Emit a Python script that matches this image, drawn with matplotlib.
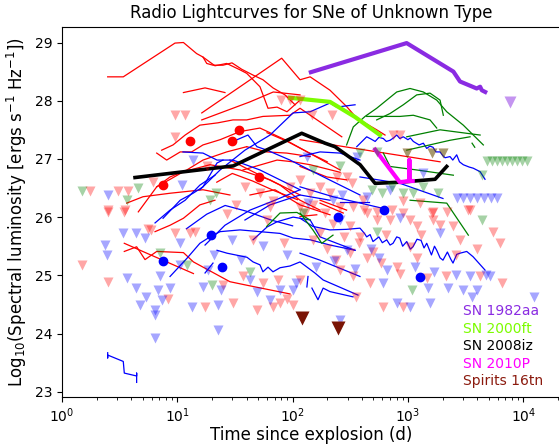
import numpy as np
import matplotlib.pyplot as plt

# --- highlighted objects (days, log10 L) ---
sn1982aa_t = [144, 975, 2480, 2830, 3950, 4230, 4370, 4680]
sn1982aa_L = [28.49, 28.99, 28.50, 28.33, 28.21, 28.24, 28.18, 28.15]
sn1982aa_lim_t = [7700]
sn1982aa_lim_L = [27.98]

sn2000ft_t = [95, 211, 348, 573]
sn2000ft_L = [28.05, 27.98, 27.72, 27.41]

sn2008iz_t = [4.3, 30.6, 120, 191, 233, 385, 519, 854, 1720, 2170]
sn2008iz_L = [26.68, 26.88, 27.44, 27.27, 27.21, 26.90, 26.58, 26.60, 26.65, 26.87]

sn2010p_t = [520, 850, 1030, 1030, 1030, 1100]
sn2010p_L = [27.16, 26.60, 26.62, 26.98, 26.62, 26.62]

spirits_t = [120, 249]
spirits_L = [24.26, 24.09]

# --- other light curves: (days, log10 L) ---
red_curves = [
    ([2.49, 3.40, 9.55, 11.3, 14.7, 16.7, 18.0, 20.4, 24.9, 29.8, 36.2, 45.4, 55.3, 67.6, 85.9, 105],
     [28.41, 28.41, 28.99, 29.0, 28.81, 28.75, 28.64, 28.61, 28.61, 28.65, 28.54, 28.44, 28.36, 28.22, 28.10, 27.93]),
    ([16.7, 21.2, 26.8, 35.0, 40.0, 52.1, 61.2, 73.3, 89.4, 116],
     [28.75, 28.60, 28.64, 28.53, 28.47, 28.24, 27.87, 27.89, 27.81, 28.01]),
    ([11.3, 17.4, 25.9], [28.14, 28.22, 28.14]),
    ([16.3, 80.4, 116, 142, 211, 294, 360, 536, 633],
     [27.79, 28.73, 28.36, 28.41, 28.18, 27.90, 27.70, 27.50, 27.41]),
    ([16.3, 42.7, 68, 116], [27.67, 27.98, 28.15, 28.10]),
    ([7.32, 9.18, 11.7, 15.7, 22.5, 30.4, 40.0, 55.3, 94.9, 116, 267],
     [27.15, 27.24, 27.41, 27.58, 27.62, 27.67, 27.67, 27.73, 27.75, 27.87, 27.38]),
    ([6.63, 8.09, 10.6, 13.3, 16.7, 23.5, 35.0, 52.1, 85.9, 258],
     [27.10, 26.98, 27.12, 27.12, 27.24, 27.33, 27.47, 27.53, 27.33, 26.81]),
    ([4.59, 6.63, 7.08, 11.3, 19.2, 35.0, 63.7, 116],
     [26.09, 26.52, 26.55, 26.78, 26.90, 26.81, 26.64, 26.38]),
    ([3.64, 5.04, 8.65, 16.7, 28.6], [26.24, 26.35, 26.41, 26.47, 26.38]),
    ([3.47, 4.44, 5.25, 6.63, 11.3, 13.8, 28.6, 40.0, 94.9],
     [25.41, 25.49, 25.27, 25.41, 25.39, 25.23, 24.89, 24.83, 24.68]),
    ([3.47, 5.43, 13.8], [25.55, 25.38, 25.03]),
    ([6.41, 8.65, 11.3, 15.7, 21.2], [25.75, 25.86, 25.98, 26.21, 26.29]),
    ([116, 1900], [27.33, 26.95]),
    ([37.1, 73.3, 101, 142, 258], [26.81, 26.98, 26.95, 26.90, 26.77]),
    ([6.63, 8.65, 12.1, 16.7, 26.8, 40.0], [26.52, 26.69, 26.81, 26.98, 27.12, 27.21]),
    ([40.0, 59.6, 88.9, 142], [27.21, 27.12, 27.10, 27.04]),
    ([116, 198, 294], [26.87, 26.69, 26.64]),
    ([173, 294], [26.29, 26.12]),
    ([173, 275], [26.24, 26.07]),
    ([116, 162], [26.01, 26.04]),
    ([28.6, 52.1, 77.8, 116, 173], [26.98, 26.72, 26.55, 26.29, 26.12]),
    ([42.7, 70.3, 116, 211], [26.38, 26.47, 26.21, 26.04]),
    ([22.0, 30.0, 45.0, 70.0, 110], [26.60, 26.75, 26.62, 26.45, 26.30]),
    ([60.0, 90.0, 140, 200], [27.45, 27.30, 27.10, 26.95]),
]

blue_curves = [
    ([11.2, 16.7, 22.1, 30.4, 52.1, 116], [27.12, 27.10, 26.98, 26.98, 26.81, 26.47]),
    ([15.7, 23.5, 38.6, 63.7, 101, 142, 211, 241, 348],
     [26.47, 26.81, 27.15, 27.41, 27.79, 27.81, 27.96, 27.89, 27.93]),
    ([33.0, 41.0, 49.1, 60.0, 94.9, 173, 384], [27.33, 27.41, 27.21, 27.15, 26.98, 26.72, 26.38]),
    ([8.65, 12.1, 15.7, 19.2, 23.5, 35.0, 52.1, 77.8, 101, 142, 211, 348],
     [24.98, 25.29, 25.55, 25.66, 25.75, 25.78, 25.75, 25.72, 25.64, 25.61, 25.52, 25.43]),
    ([6.41, 8.65, 11.7, 15.7, 21.2], [25.90, 26.12, 26.29, 26.55, 26.72]),
    ([22.1, 27.0, 40.2, 45.4, 52.1, 55.3, 61.2, 67.6, 77.8, 94.9, 116, 156, 184, 369],
     [25.43, 25.38, 25.31, 25.23, 25.18, 25.06, 25.14, 25.06, 25.13, 25.16, 25.23, 25.04, 24.92, 24.66]),
    ([45.4, 60.0, 73.3, 101, 142, 173, 348], [25.61, 25.83, 25.92, 26.00, 25.95, 25.66, 25.43]),
    ([116, 150, 211, 294, 384, 420, 439, 470, 498, 560, 600, 655, 700, 743, 800, 850, 900, 977,
      1050, 1107, 1200, 1300, 1380, 1456, 1600, 1700, 1778, 1900, 2014, 2200, 2350, 2461, 2650,
      2831, 3236, 3671, 4664],
     [25.98, 25.84, 25.78, 25.79, 25.81, 25.72, 25.66, 25.70, 25.58, 25.66, 25.56, 25.61, 25.52,
      25.55, 25.66, 25.64, 25.50, 25.58, 25.45, 25.49, 25.62, 25.60, 25.47, 25.55, 25.35, 25.50,
      25.43, 25.30, 25.26, 25.40, 25.28, 25.21, 25.36, 25.38, 25.41, 25.32, 25.09]),
    ([360, 400, 439, 480, 520, 560, 612, 650, 700, 750, 800, 850, 912, 1000, 1050, 1114, 1180,
      1250, 1361, 1456, 1550, 1650, 1750, 1900, 2000, 2100, 2317, 2450, 2649, 2800, 3022, 3400,
      3690, 4230, 4664],
     [27.21, 27.30, 27.38, 27.34, 27.30, 27.37, 27.35, 27.30, 27.32, 27.36, 27.41, 27.35, 27.38,
      27.33, 27.36, 27.30, 27.27, 27.24, 27.27, 27.18, 27.22, 27.20, 27.12, 27.12, 27.06, 27.02,
      27.04, 26.98, 27.07, 26.95, 26.90, 26.86, 26.84, 26.78, 26.65]),
    ([116, 173, 258, 384], [27.04, 27.12, 27.10, 26.98]),
    ([116, 224, 608], [26.52, 26.35, 26.15]),
    ([384, 854, 2014], [26.69, 26.58, 26.32]),
    ([147, 166, 184, 211, 334], [24.78, 24.58, 24.78, 24.72, 24.63]),
    ([116, 173, 384], [25.38, 25.26, 24.98]),
    ([2.49, 2.49, 2.49, 3.40, 3.47, 4.44, 4.44, 4.44],
     [23.67, 23.58, 23.63, 23.52, 23.32, 23.27, 23.32, 23.16]),
    ([17.4, 20.4], [25.04, 25.21]),
    ([136, 133], [24.98, 24.80]),
    ([7.52, 10.6, 13.7, 16.7, 22.1, 24.9], [25.98, 26.29, 26.41, 26.52, 26.93, 26.98]),
    ([38.6, 63.7, 116, 211], [25.95, 26.21, 26.38, 26.29]),
    ([17.4, 25.9, 42.7, 70.3, 116], [25.52, 25.86, 26.12, 26.29, 26.47]),
    ([258, 460], [26.26, 26.26]),
    ([12.0, 18.0, 26.0, 40.0, 65.0, 100], [25.80, 26.05, 26.20, 26.10, 25.95, 25.85]),
]

green_curves = [
    ([294, 336, 425, 536, 800, 1043, 1361, 1778, 2172, 3022, 4508],
     [27.24, 27.55, 27.73, 27.87, 28.15, 28.21, 28.15, 28.01, 27.81, 27.58, 27.24]),
    ([536, 700, 912, 1192, 1555, 1900, 2028], [27.67, 27.78, 27.93, 28.10, 28.13, 28.01, 27.75]),
    ([439, 854, 1114, 1555, 1778], [27.73, 27.73, 27.75, 27.67, 27.53]),
    ([977, 1900, 3236, 4230], [27.38, 27.50, 27.44, 27.41]),
    ([612, 700, 1192, 2478], [27.10, 26.87, 26.81, 26.72]),
    ([59.6, 77.8, 109, 142], [25.84, 26.07, 26.08, 25.95]),
    ([116, 150, 179, 224], [26.07, 25.78, 25.55, 25.69]),
    ([1044, 2172, 3342], [26.29, 26.24, 25.69]),
    ([977, 2317, 3459], [27.15, 27.32, 27.38]),
    ([3600, 3800], [27.27, 27.20]),
]

# --- upper limits (triangles) ---
red_lim_t = [1.75, 3.08, 3.76, 2.52, 3.52, 9.6, 11.7, 9.6, 80, 95, 116,
             2.5, 3.46, 1.48, 2.5, 5.6, 5.9, 8.3, 9.6, 12.9, 14.3, 17.3, 25, 30.5, 37, 49, 55, 67,
             78, 75, 89, 101, 116,
             128, 173, 224, 240, 258, 315, 335, 355, 440, 469, 610, 590, 700, 855, 910, 1190, 1190,
             1460, 1900, 2150, 2450, 2840, 3460, 5500, 6500, 4230, 150, 190, 420, 535, 725, 910,
             1620, 315, 384, 1044,
             218, 146, 116, 142, 173, 211, 241, 294, 326, 258, 336, 410, 439, 536, 912, 1275, 1660,
             1660, 2172, 3342, 1044, 747, 854, 977, 1608, 2028,
             6.2, 18.0, 38.6, 52.1, 68, 94.9, 116, 63.7, 32.4,
             27, 45, 60, 85, 150, 200, 280, 380, 500, 650, 800, 1300, 2600, 4000, 6300]
red_lim_L = [26.44, 26.44, 26.44, 26.12, 26.12, 27.75, 27.75, 27.38, 28.01, 28.01, 28.01,
             26.09, 26.09, 25.18, 24.89, 25.80, 25.77, 24.60, 25.72, 25.72, 25.75, 24.46, 24.83,
             24.52, 24.98, 24.40, 24.86, 24.46, 24.52, 24.92, 24.60, 24.49, 24.92,
             26.07, 25.72, 25.89, 25.26, 25.09, 25.38, 24.98, 24.63, 25.29, 24.86, 24.46, 25.21,
             25.95, 25.03, 24.46, 25.29, 25.84, 24.95, 25.86, 24.98, 25.84, 25.61, 26.12, 25.75,
             24.86, 24.98, 26.21, 26.07, 26.12, 26.09, 26.12, 26.07, 26.07, 25.84, 25.66, 25.49,
             27.75, 27.75, 26.64, 26.41, 26.52, 26.41, 26.69, 26.69, 26.58, 26.18, 26.18, 26.29,
             26.07, 25.95, 26.27, 26.24, 26.09, 25.95, 26.09, 26.12, 25.95, 27.41, 27.41, 27.10,
             27.10, 27.10,
             26.61, 26.87, 26.52, 26.41, 26.27, 26.52, 26.18, 26.18, 26.21,
             26.05, 25.60, 25.95, 25.55, 25.60, 25.45, 25.65, 25.55, 25.40, 25.70, 25.15, 25.70,
             25.35, 25.45, 25.55]

blue_lim_t = [2.52,
              2.36, 2.44, 3.4, 4.4, 5.2, 3.64, 4.4, 4.74, 5.4, 6.4, 6.4, 7.1, 6.4, 6.8, 7.3, 8.6,
              10.6, 10.6, 13.3, 16.7, 18.6, 22.6, 22.6, 24, 21, 36, 42.7, 49, 64, 78, 101, 108,
              137, 224, 258, 610, 800, 1040, 1560, 1490, 2240, 3000, 3600, 3950, 5160, 12300, 4800,
              855, 1900, 2600, 3460, 258, 660, 295,
              2670, 3000, 3460, 3980, 4570, 5260, 5930,
              270, 440, 1360, 700, 10.9, 13.7, 132, 360,
              30, 55, 90, 160, 230, 350, 480, 560, 1150, 1700]
blue_lim_L = [26.38,
              25.52, 25.35, 25.72, 25.72, 25.64, 24.95, 24.78, 24.49, 24.63, 24.40, 24.32, 24.98,
              23.92, 24.75, 24.58, 24.78, 25.55, 25.18, 24.46, 24.80, 25.09, 24.06, 24.49, 24.75,
              25.35, 25.26, 24.92, 24.72, 24.58, 24.75, 24.75, 24.86,
              26.24, 26.29, 25.95, 24.86, 24.52, 24.46, 24.52, 24.78, 24.78, 24.75, 24.63, 24.75,
              24.98, 24.63, 25.00, 25.98, 25.72, 25.00, 24.98, 24.23, 25.09, 25.43,
              26.32, 26.32, 26.32, 26.32, 26.32, 26.32, 26.32,
              26.38, 26.35, 26.75, 26.47, 26.55, 26.98, 27.04, 27.04,
              25.60, 25.50, 25.35, 25.15, 25.25, 25.10, 25.45, 25.30, 25.15, 25.05]

green_lim_t = [1.48, 3.64, 4.6, 7.1, 12.1, 20, 42.7, 123, 535, 1090, 4400,
               384, 535, 258, 150, 4400, 1840, 977, 1608, 2028,
               485, 593, 723, 912, 1114, 1361,
               4870, 5400, 5960, 6600, 7300, 8050, 8900, 9830, 10850, 19.2, 21.7]
green_lim_L = [26.44, 26.29, 26.50, 25.39, 25.18, 24.83, 25.06, 26.07, 25.75, 24.75, 25.95,
               27.10, 27.12, 26.87, 26.81, 26.72, 26.41, 27.10, 27.10, 27.10,
               26.47, 26.41, 26.52, 26.41, 26.41, 26.52,
               26.96, 26.96, 26.96, 26.96, 26.96, 26.96, 26.96, 26.96, 26.96, 26.29, 26.41]

# --- detections (circles) ---
red_dot_t = [12.9, 29.6, 34.3, 7.47, 51.4]
red_dot_L = [27.30, 27.30, 27.50, 26.56, 26.69]
blue_dot_t = [7.47, 19.5, 24.6, 249, 621, 1273]
blue_dot_L = [25.25, 25.69, 25.15, 26.01, 26.12, 24.97]

legend_names = ['SN 1982aa', 'SN 2000ft', 'SN 2008iz', 'SN 2010P', 'Spirits 16tn']
legend_colors = ['#8a2be2', '#7cfc00', 'black', 'magenta', '#8b1a0e']

fig = plt.figure(figsize=(5.59, 4.44), dpi=100)
ax = fig.add_axes([0.1109, 0.1065, 0.8927, 0.8333])

for t, L in red_curves:
    ax.plot(t, L, color='red', lw=0.9)
for t, L in blue_curves:
    ax.plot(t, L, color='blue', lw=0.9)
for t, L in green_curves:
    ax.plot(t, L, color='green', lw=0.9)

ax.plot(sn2008iz_t, sn2008iz_L, color='black', lw=2.6)
ax.plot(sn1982aa_t, sn1982aa_L, color='#8a2be2', lw=3)
ax.plot(sn2000ft_t, sn2000ft_L, color='#7cfc00', lw=3)
ax.plot(sn2010p_t, sn2010p_L, color='magenta', lw=3)

ax.plot(red_lim_t, red_lim_L, 'v', color='red', alpha=0.35, ms=7.5, mec='none')
ax.plot(blue_lim_t, blue_lim_L, 'v', color='blue', alpha=0.35, ms=7.5, mec='none')
ax.plot(green_lim_t, green_lim_L, 'v', color='green', alpha=0.35, ms=7.5, mec='none')
ax.plot(sn1982aa_lim_t, sn1982aa_lim_L, 'v', color='#8a2be2', alpha=0.5, ms=9, mec='none')
ax.plot(spirits_t, spirits_L, 'v', color='#7a1405', ms=10, mec='none')

ax.plot(red_dot_t, red_dot_L, 'o', color='red', ms=6)
ax.plot(blue_dot_t, blue_dot_L, 'o', color='blue', ms=6)

for i, (name, c) in enumerate(zip(legend_names, legend_colors)):
    ax.text(0.804, 0.2316 - i * 0.0473, name, color=c, fontsize=10,
            transform=ax.transAxes, va='center', ha='left')

ax.set_xscale('log')
ax.set_xlim(1, 21270)
ax.set_ylim(22.914, 29.271)
ax.set_yticks([23, 24, 25, 26, 27, 28, 29])
ax.tick_params(labelsize=10)
ax.set_xlabel('Time since explosion (d)', fontsize=12, labelpad=1)
ax.set_ylabel(r'Log$_{10}$(Spectral luminosity [ergs s$^{-1}$ Hz$^{-1}$])', fontsize=12)
ax.set_title('Radio Lightcurves for SNe of Unknown Type', fontsize=12)

fig.savefig('out.png', dpi=100)
